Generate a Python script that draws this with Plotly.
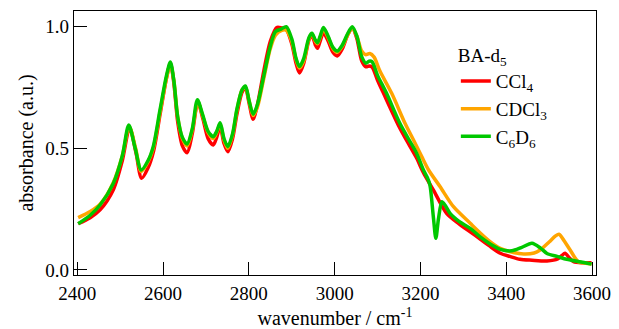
import plotly.graph_objects as go

# --- data ---
x_c6d6 = [2402, 2430, 2453, 2484, 2505, 2520, 2535, 2549, 2565, 2577, 2593, 2608, 2617, 2625, 2634, 2645, 2656,
          2668, 2680, 2692, 2705, 2717, 2725, 2733, 2742, 2751, 2762, 2772, 2784, 2792, 2800, 2810, 2820, 2835,
          2850, 2862, 2875, 2887, 2900, 2910, 2918, 2928, 2940, 2947, 2955, 2960, 2966, 2974, 2985, 2996, 3006,
          3018, 3030, 3041, 3052, 3063, 3073, 3080, 3087, 3100, 3121, 3152, 3175, 3191, 3207, 3216, 3222, 3230,
          3236, 3242, 3250, 3258, 3269, 3290, 3316, 3340, 3360, 3386, 3413, 3435, 3460, 3480, 3495, 3520, 3541,
          3570, 3599]
y_c6d6 = [0.190, 0.225, 0.267, 0.356, 0.47, 0.596, 0.50, 0.411, 0.45, 0.507, 0.66, 0.80, 0.855, 0.78, 0.63, 0.545,
          0.518, 0.58, 0.70, 0.64, 0.57, 0.548, 0.57, 0.605, 0.54, 0.507, 0.56, 0.66, 0.74, 0.756, 0.70, 0.64, 0.68,
          0.80, 0.92, 0.98, 0.99, 1.0, 0.95, 0.87, 0.836, 0.87, 0.955, 0.973, 0.945, 0.934, 0.96, 0.997, 0.96, 0.915,
          0.90, 0.925, 0.97, 1.0, 0.96, 0.877, 0.85, 0.858, 0.856, 0.80, 0.726, 0.603, 0.53, 0.48, 0.411, 0.38, 0.35,
          0.22, 0.13, 0.21, 0.281, 0.265, 0.233, 0.20, 0.171, 0.135, 0.11, 0.085, 0.079, 0.092, 0.11, 0.09, 0.068,
          0.055, 0.044, 0.034, 0.025]

x_ccl4 = [2402, 2430, 2453, 2484, 2505, 2522, 2537, 2550, 2565, 2578, 2593, 2608, 2617, 2625, 2634, 2645, 2656,
          2668, 2681, 2693, 2705, 2717, 2725, 2733, 2742, 2751, 2762, 2772, 2784, 2792, 2800, 2810, 2820, 2835,
          2850, 2865, 2877, 2887, 2900, 2910, 2918, 2928, 2940, 2947, 2955, 2960, 2966, 2974, 2985, 2996, 3006,
          3018, 3030, 3041, 3052, 3063, 3073, 3080, 3087, 3100, 3114, 3150, 3175, 3191, 3207, 3230, 3261, 3290,
          3316, 3340, 3360, 3386, 3410, 3432, 3460, 3495, 3520, 3530, 3537, 3547, 3557, 3580, 3599]
y_ccl4 = [0.19, 0.215, 0.247, 0.33, 0.45, 0.585, 0.48, 0.377, 0.42, 0.49, 0.64, 0.79, 0.85, 0.77, 0.61, 0.51,
          0.482, 0.56, 0.69, 0.62, 0.54, 0.514, 0.545, 0.59, 0.52, 0.486, 0.54, 0.64, 0.73, 0.75, 0.69, 0.62, 0.68,
          0.82, 0.94, 0.997, 0.995, 0.99, 0.93, 0.85, 0.81, 0.85, 0.945, 0.965, 0.925, 0.911, 0.94, 0.975, 0.94,
          0.895, 0.88, 0.91, 0.965, 0.995, 0.95, 0.86, 0.835, 0.838, 0.835, 0.78, 0.726, 0.59, 0.51, 0.46, 0.40,
          0.329, 0.233, 0.19, 0.157, 0.126, 0.10, 0.069, 0.055, 0.044, 0.04, 0.037, 0.045, 0.06, 0.069, 0.05,
          0.034, 0.03, 0.03]

x_cdcl3 = [2402, 2430, 2453, 2484, 2505, 2521, 2536, 2549, 2565, 2577, 2593, 2608, 2617, 2625, 2634, 2645, 2656,
           2668, 2681, 2692, 2705, 2717, 2725, 2733, 2742, 2751, 2762, 2772, 2784, 2792, 2800, 2810, 2820, 2835,
           2850, 2862, 2877, 2887, 2900, 2910, 2918, 2928, 2940, 2947, 2955, 2960, 2966, 2974, 2985, 2996, 3006,
           3018, 3030, 3041, 3052, 3063, 3072, 3082, 3092, 3105, 3133, 3164, 3185, 3203, 3219, 3246, 3277, 3316,
           3340, 3360, 3386, 3410, 3441, 3465, 3479, 3500, 3515, 3523, 3535, 3549, 3568, 3585, 3599]
y_cdcl3 = [0.215, 0.24, 0.27, 0.36, 0.47, 0.59, 0.50, 0.405, 0.445, 0.50, 0.65, 0.79, 0.845, 0.78, 0.63, 0.54,
           0.51, 0.575, 0.69, 0.635, 0.565, 0.54, 0.565, 0.60, 0.535, 0.50, 0.555, 0.655, 0.74, 0.75, 0.70, 0.635,
           0.67, 0.79, 0.91, 0.965, 0.985, 0.985, 0.94, 0.865, 0.83, 0.86, 0.95, 0.97, 0.94, 0.93, 0.955, 0.99,
           0.955, 0.91, 0.895, 0.92, 0.965, 0.995, 0.96, 0.90, 0.885, 0.89, 0.875, 0.82, 0.726, 0.603, 0.53, 0.466,
           0.411, 0.342, 0.26, 0.192, 0.151, 0.12, 0.089, 0.075, 0.066, 0.07, 0.082, 0.115, 0.14, 0.147, 0.12,
           0.082, 0.034, 0.028, 0.025]

x_ticks = [2400, 2600, 2800, 3000, 3200, 3400, 3600]
y_ticks = [0.0, 0.5, 1.0]
y_ticklabels = ["0.0", "0.5", "1.0"]

series = [
    ("CCl<sub>4</sub>", x_ccl4, y_ccl4, "#FF0000"),
    ("CDCl<sub>3</sub>", x_cdcl3, y_cdcl3, "#FFA500"),
    ("C<sub>6</sub>D<sub>6</sub>", x_c6d6, y_c6d6, "#00C800"),
]

FONT = "Liberation Serif"

fig = go.Figure()
for name, xs, ys, col in series:
    fig.add_trace(go.Scatter(x=xs, y=ys, mode="lines", name=name,
                             line=dict(color=col, width=3.5, shape="spline", smoothing=0.8)))

axis_common = dict(showline=True, linecolor="black", linewidth=1.3, mirror=True,
                   ticks="inside", ticklen=13, tickwidth=1.3, tickcolor="black",
                   showgrid=False, zeroline=False, automargin=False,
                   tickfont=dict(family=FONT, size=19, color="black"))

fig.update_xaxes(range=[2392.3, 3609.3], tickvals=x_ticks, ticklabelstandoff=1,
                 title=dict(text="wavenumber / cm<sup>-1</sup>", font=dict(family=FONT, size=20, color="black"),
                            standoff=9),
                 **axis_common)
fig.update_yaxes(range=[-0.0206, 1.0645], tickvals=y_ticks, ticktext=y_ticklabels,
                 title=dict(text="absorbance (a.u.)", font=dict(family=FONT, size=20, color="black"),
                            standoff=6),
                 **axis_common)

fig.update_layout(
    width=619, height=329,
    margin=dict(l=74, r=23, t=11, b=54, autoexpand=False),
    paper_bgcolor="white", plot_bgcolor="white",
    font=dict(family=FONT, size=19, color="black"),
    showlegend=True,
    legend=dict(title=dict(text="BA-d<sub>5</sub>", font=dict(family=FONT, size=19, color="black")),
                x=0.7315, y=0.9, xanchor="left", yanchor="top",
                bgcolor="rgba(0,0,0,0)", borderwidth=0,
                font=dict(family=FONT, size=19, color="black"),
                traceorder="normal", itemwidth=30, tracegroupgap=0),
)

fig.write_html("out.html")
